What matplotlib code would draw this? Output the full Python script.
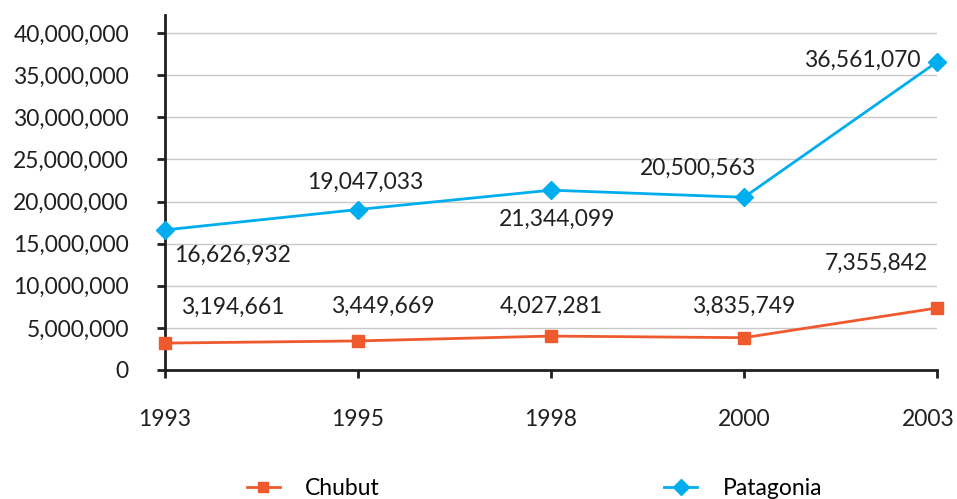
import matplotlib.pyplot as plt
import matplotlib.transforms as mtransforms
from matplotlib.ticker import FuncFormatter

plt.rcParams['font.family'] = ['Lato', 'DejaVu Sans']

years = ["1993", "1995", "1998", "2000", "2003"]
chubut = [3194661, 3449669, 4027281, 3835749, 7355842]
patagonia = [16626932, 19047033, 21344099, 20500563, 36561070]

# label offsets (pixels) from each marker
chubut_off = [(68, 36), (25, 35), (0, 30), (0, 31), (-61, 45)]
patagonia_off = [(68, -25), (7, 27), (6, -29), (-46, 29), (-75, 2)]

orange = "#EE5A2E"
blue = "#00AEEF"
dark = "#231F20"
fs = 16.5

fig = plt.figure(figsize=(9.57, 4.99), dpi=100)
ax = fig.add_axes([165 / 957, 1 - 370 / 499, (937 - 165) / 957, (370 - 15) / 499])

x = list(range(len(years)))
l1, = ax.plot(x, chubut, color=orange, lw=2, marker="s", ms=9, clip_on=False, zorder=3)
l2, = ax.plot(x, patagonia, color=blue, lw=2, marker="D", ms=9, clip_on=False, zorder=3)

for i in x:
    ax.annotate(f"{chubut[i]:,}", (i, chubut[i]), xytext=chubut_off[i],
                textcoords="offset pixels", ha="center", va="center",
                fontsize=fs, color=dark)
    ax.annotate(f"{patagonia[i]:,}", (i, patagonia[i]), xytext=patagonia_off[i],
                textcoords="offset pixels", ha="center", va="center",
                fontsize=fs, color=dark)

ax.set_xlim(0, 4)
ax.set_ylim(0, 40000000 * 355 / 337)
ax.set_yticks(range(0, 40000001, 5000000))
ax.yaxis.set_major_formatter(FuncFormatter(lambda v, p: f"{int(v):,}"))
ax.set_xticks(x)
ax.set_xticklabels(years)
ax.grid(axis="y", color="#C8C8C8", lw=1)
ax.set_axisbelow(True)

for s in ["top", "right"]:
    ax.spines[s].set_visible(False)
for s in ["left", "bottom"]:
    ax.spines[s].set_color(dark)
    ax.spines[s].set_linewidth(2)
ax.tick_params(axis="y", length=6, width=2, color=dark, labelsize=fs, labelcolor=dark, pad=20)
ax.tick_params(axis="x", length=6, width=2, color=dark, labelsize=fs, labelcolor=dark, pad=22)

# last year label sits a little left so it stays inside the figure
last = ax.get_xticklabels()[-1]
last.set_transform(last.get_transform() + mtransforms.ScaledTranslation(-9 / 100, 0, fig.dpi_scale_trans))

fig.legend([l1, l2], ["Chubut", "Patagonia"], loc="center", bbox_to_anchor=(0.5585, 0.022),
           ncol=2, frameon=False, fontsize=fs, handlelength=1.45, handletextpad=1.1,
           columnspacing=12.4, markerscale=0.85)

fig.savefig("out.png", dpi=100)
